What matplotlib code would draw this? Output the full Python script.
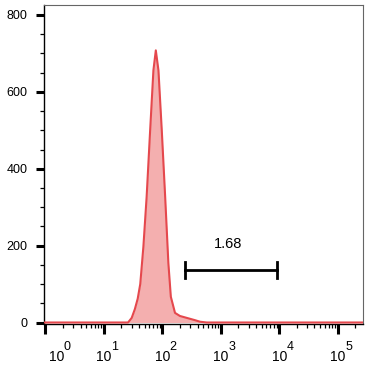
import matplotlib
matplotlib.use("Agg")
import matplotlib.pyplot as plt
import matplotlib.ticker as mticker
import matplotlib.transforms as mtransforms
import numpy as np

plt.rcParams['font.family'] = ['Liberation Sans', 'DejaVu Sans']

# Histogram (fluorescence value, count)
fluor = [0.95, 26, 30, 34, 38, 42, 47.5, 54, 62, 70.5, 77.5, 86, 98, 112, 127, 140,
         165, 200, 262, 363, 442, 575, 270000]
counts = [0, 0, 12, 35, 62, 100, 197, 327, 500, 656, 708, 656, 500, 327, 155, 67,
          25, 17, 12, 6, 2, 0, 0]

# Gate
gate_lo, gate_hi, gate_y = 245, 9200, 136
gate_label = "1.68"
gate_label_pos = (1330, 204)

yticks = [0, 200, 400, 600, 800]
xticks = [1, 10, 100, 1000, 10000, 100000]
xtick_exps = ['0', '1', '2', '3', '4', '5']

fig = plt.figure(figsize=(3.70, 3.66), dpi=100)
ax = fig.add_axes([44/370, 1-323.5/366, (363-44)/370, (323.5-5)/366])

ax.fill_between(fluor, counts, 0, color='#F4AFAF', lw=0, zorder=2)
ax.plot(fluor, counts, color='#E5484D', lw=1.5, zorder=3)

ax.set_xscale('log')
ax.set_xlim(0.95, 270000)
ax.set_ylim(-2.6, 826)

# gate
ax.plot([gate_lo, gate_hi], [gate_y, gate_y], color='black', lw=2, zorder=4)
ax.plot([gate_lo, gate_lo], [gate_y-21, gate_y+21], color='black', lw=2, zorder=4)
ax.plot([gate_hi, gate_hi], [gate_y-21, gate_y+21], color='black', lw=2, zorder=4)
ax.text(gate_label_pos[0], gate_label_pos[1], gate_label, ha='center', va='center', fontsize=10.5)

ax.set_yticks(yticks)
ax.yaxis.set_minor_locator(mticker.MultipleLocator(50))
ax.set_xticks(xticks)
ax.set_xticklabels([])
ax.xaxis.set_minor_locator(mticker.LogLocator(base=10, subs=np.arange(2, 10), numticks=20))
ax.xaxis.set_minor_formatter(mticker.NullFormatter())

ax.tick_params(axis='both', which='major', direction='out', length=6, width=2.2,
               color='black', labelsize=9)
ax.tick_params(axis='x', which='major', length=7.5)
ax.tick_params(axis='both', which='minor', direction='out', length=3, width=0.9, color='black')
ax.tick_params(axis='y', which='major', pad=6)

# x tick labels drawn as base + superscript
trans = mtransforms.blended_transform_factory(ax.transData, ax.transAxes)
for i, (xv, e) in enumerate(zip(xticks, xtick_exps)):
    dx = 11 if i == 0 else 0
    tb = trans + mtransforms.ScaledTranslation(dx/100, -33.5/100, fig.dpi_scale_trans)
    ax.text(xv, 0, '10', transform=tb, ha='center', va='center', fontsize=10, clip_on=False)
    ts = trans + mtransforms.ScaledTranslation((dx + 7.5)/100, -23/100, fig.dpi_scale_trans)
    ax.text(xv, 0, e, transform=ts, ha='left', va='center', fontsize=9, clip_on=False)

for s in ['left', 'bottom']:
    ax.spines[s].set_color('black')
    ax.spines[s].set_linewidth(1.0)
for s in ['top', 'right']:
    ax.spines[s].set_color('#666666')
    ax.spines[s].set_linewidth(0.8)

fig.savefig('out.png', dpi=100)
